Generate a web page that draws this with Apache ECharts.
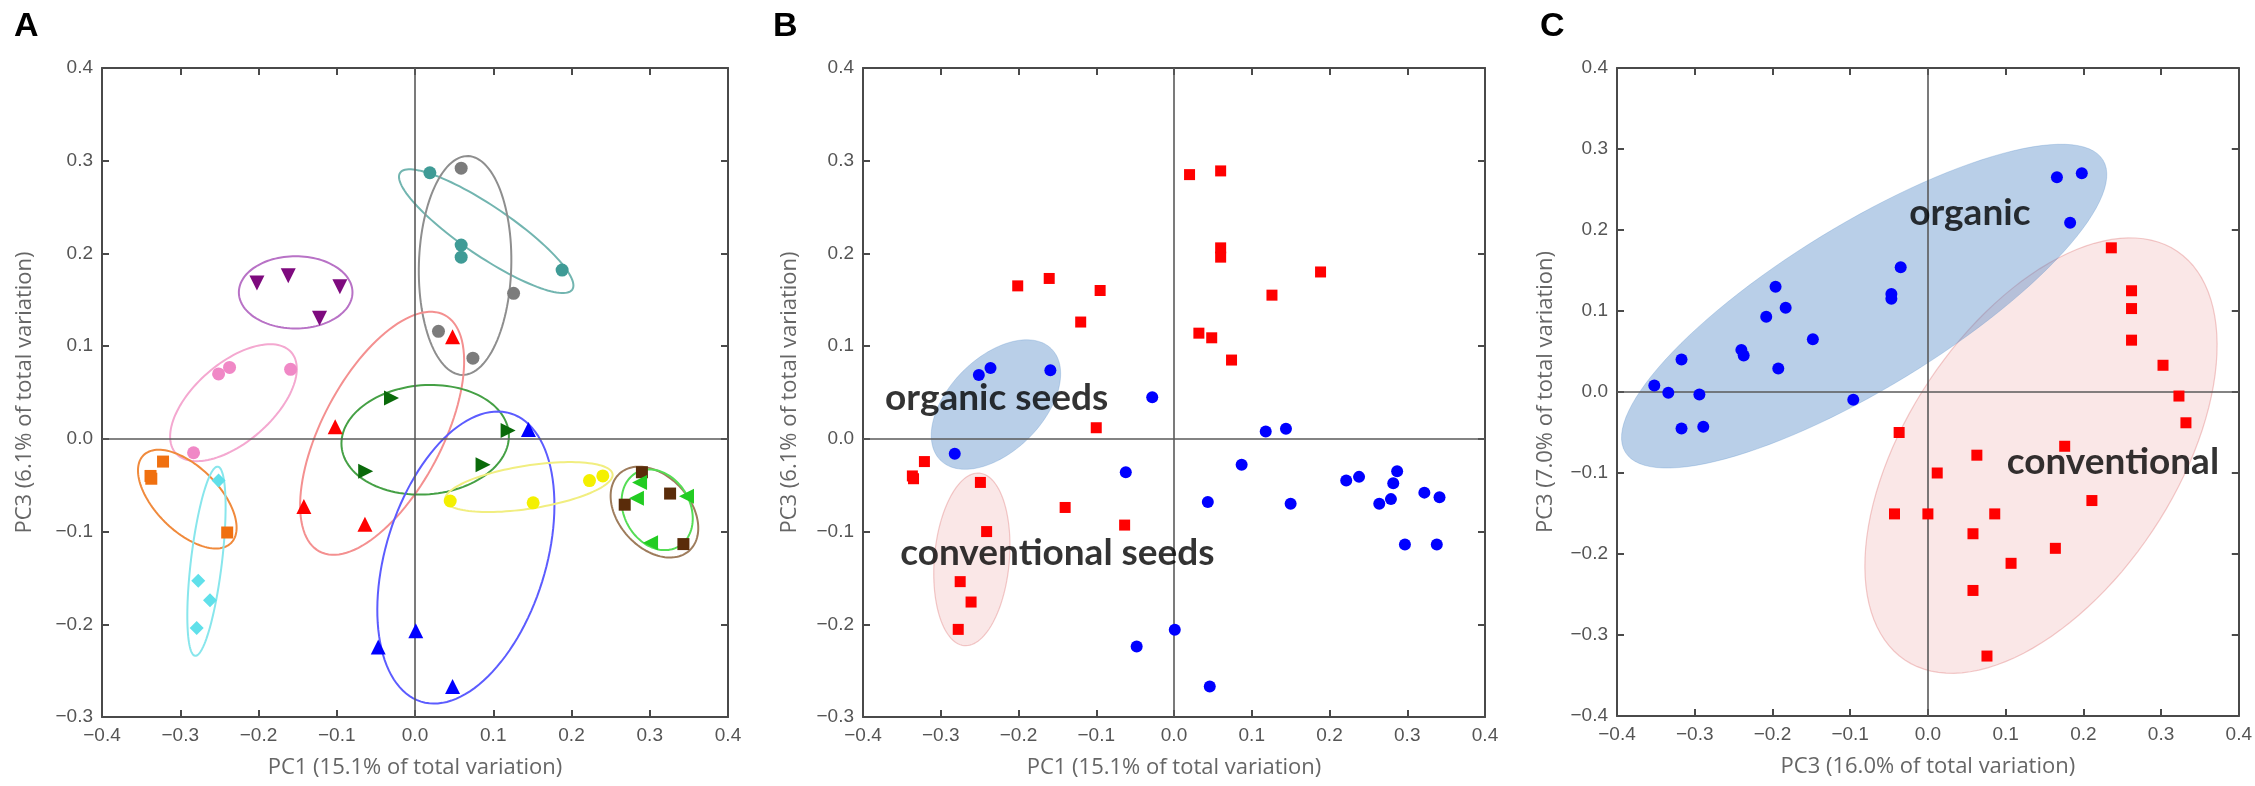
<!DOCTYPE html>
<html><head><meta charset="utf-8">
<script src="https://cdn.jsdelivr.net/npm/echarts@6/dist/echarts.min.js"></script>
<style>html,body{margin:0;padding:0;background:#fff}#c{width:2255px;height:786px}</style>
</head><body><div id="c"></div>
<script>
// ---------- Panel A: groups (points) ----------
const groupNames = ['teal','grey','purple','pink','red','darkgreen','blue','yellow','orange','cyan','brown','lime'];
const tealPts = [[0.019,0.287],[0.059,0.209],[0.059,0.196],[0.188,0.182]];
const greyPts = [[0.059,0.292],[0.126,0.157],[0.030,0.116],[0.074,0.087]];
const purplePts = [[-0.202,0.168],[-0.162,0.176],[-0.096,0.164],[-0.122,0.130]];
const pinkPts = [[-0.251,0.070],[-0.237,0.077],[-0.159,0.075],[-0.283,-0.015]];
const redPts = [[0.048,0.110],[-0.102,0.013],[-0.142,-0.073],[-0.064,-0.092]];
const darkgreenPts = [[-0.030,0.044],[0.119,0.009],[0.087,-0.028],[-0.063,-0.035]];
const bluePts = [[0.145,0.010],[0.001,-0.207],[-0.047,-0.2245],[0.048,-0.267]];
const yellowPts = [[0.045,-0.067],[0.151,-0.069],[0.223,-0.045],[0.240,-0.040]];
const orangePts = [[-0.322,-0.0245],[-0.338,-0.040],[-0.337,-0.043],[-0.240,-0.101]];
const cyanPts = [[-0.251,-0.045],[-0.277,-0.153],[-0.262,-0.174],[-0.279,-0.204]];
const brownPts = [[0.290,-0.036],[0.268,-0.071],[0.326,-0.059],[0.343,-0.1135]];
const limePts = [[0.287,-0.047],[0.283,-0.064],[0.347,-0.062],[0.301,-0.112]];

// ellipses: [cx, cy, ux, uy, vx, vy] (centre and two conjugate semi-axes, data units)
const tealEll = [0.091,0.224,0.110,-0.063,0.018,0.022];
const greyEll = [0.064,0.187,0.004,0.118,0.059,-0.002];
const purpleEll = [-0.1525,0.158,0.0726,0,0,0.039];
const pinkEll = [-0.232,0.039,0.072,0.056,-0.037,0.029];
const redEll = [-0.042,0.006,0.080,0.1275,-0.0677,0.0304];
const darkgreenEll = [0.013,-0.001,0.107,0.004,0,0.059];
const blueEll = [0.065,-0.128,0.0573,0.1554,-0.0976,0.0257];
const yellowEll = [0.1455,-0.052,0.107,0.014,-0.004,0.023];
const orangeEll = [-0.291,-0.065,0.056,-0.0473,0.0289,0.0244];
const cyanEll = [-0.2665,-0.132,0.0145,0.102,0.0197,-0.002];
const brownEll = [0.306,-0.079,0.0445,-0.0416,0.034,0.0259];
const limeEll = [0.3095,-0.0765,0.0271,-0.0397,0.0365,0.0178];

// ---------- Panel B ----------
const organicB = [[-0.251,0.069],[-0.236,0.0765],[-0.159,0.074],[-0.028,0.045],[-0.282,-0.016],[-0.062,-0.036],[0.118,0.008],[0.144,0.011],[0.087,-0.028],[0.0435,-0.068],[0.150,-0.070],[0.2215,-0.045],[0.238,-0.041],[0.287,-0.035],[0.282,-0.048],[0.264,-0.070],[0.279,-0.065],[0.322,-0.058],[0.3415,-0.063],[0.297,-0.114],[0.338,-0.114],[0.001,-0.206],[-0.048,-0.224],[0.046,-0.267]];
const conventionalB = [[0.020,0.285],[0.060,0.289],[0.060,0.206],[0.060,0.196],[0.1885,0.180],[0.126,0.155],[-0.201,0.165],[-0.1605,0.173],[-0.095,0.160],[-0.120,0.126],[0.032,0.114],[0.0485,0.109],[0.074,0.085],[-0.100,0.012],[-0.321,-0.0245],[-0.3365,-0.040],[-0.335,-0.043],[-0.249,-0.047],[-0.140,-0.074],[-0.0635,-0.093],[-0.241,-0.100],[-0.275,-0.154],[-0.261,-0.176],[-0.2775,-0.2055]];
const organicEllB = [-0.229,0.037,0.0715,0.060,-0.0426,0.0358];
const conventionalEllB = [-0.26,-0.130,0.010,0.093,0.048,-0.004];
const labelsB = [['organic seeds',-0.228,0.0435],['conventional seeds',-0.150,-0.123]];

// ---------- Panel C ----------
const organicC = [[0.166,0.265],[0.198,0.270],[0.183,0.209],[-0.035,0.154],[-0.047,0.121],[-0.047,0.115],[-0.196,0.130],[-0.183,0.104],[-0.208,0.093],[-0.148,0.065],[-0.240,0.052],[-0.237,0.045],[-0.1925,0.029],[-0.317,0.040],[-0.352,0.008],[-0.334,-0.001],[-0.294,-0.003],[-0.096,-0.0095],[-0.317,-0.045],[-0.289,-0.043]];
const conventionalC = [[0.236,0.178],[0.262,0.125],[0.262,0.103],[0.262,0.064],[0.3025,0.033],[0.323,-0.005],[0.332,-0.038],[-0.037,-0.050],[0.176,-0.067],[0.063,-0.078],[0.012,-0.100],[0.211,-0.134],[-0.043,-0.1505],[0.0,-0.1505],[0.086,-0.1505],[0.058,-0.175],[0.164,-0.193],[0.107,-0.2115],[0.058,-0.245],[0.076,-0.326]];
const organicEllC = [-0.082,0.106,0.3074,0.1802,-0.0545,0.0865];
const conventionalEllC = [0.1455,-0.0785,0.1752,0.2523,-0.1437,0.0927];
const labelsC = [['organic',0.054,0.221],['conventional',0.238,-0.087]];

// ---------- axis texts ----------
const panelLetters = ['A','B','C'];
const xTitles = ['PC1 (15.1% of total variation)','PC1 (15.1% of total variation)','PC3 (16.0% of total variation)'];
const yTitles = ['PC3 (6.1% of total variation)','PC3 (6.1% of total variation)','PC3 (7.0% of total variation)'];
const yMins = [-0.3,-0.3,-0.4];
const axisMin = -0.4, axisMax = 0.4, tickStep = 0.1;

// ---------- layout ----------
const grids = [
  {left:102, top:68, width:626, height:649},
  {left:863, top:68, width:622, height:649},
  {left:1617, top:68, width:625, height:648}
];
const yNameGaps = [66, 62, 60];
const letterPos = [[14,10],[773,10],[1540,10]];
const AX = '#4a4a4a';
const LBL = '#555';

function fmt(v){ const s = Math.abs(v).toFixed(1); return (v < -1e-9 ? '\u2212' : '') + s; }

const xAxes = [], yAxes = [];
grids.forEach((g,p)=>{
  const common = {type:'value', min:axisMin, max:axisMax, interval:tickStep, gridIndex:p, splitLine:{show:false},
    axisLine:{show:true,onZero:false,lineStyle:{color:AX,width:2}},
    axisTick:{show:true,inside:true,length:7,lineStyle:{color:AX,width:2}}};
  xAxes.push(Object.assign({}, common, {position:'bottom',
    axisLabel:{show:true,margin:9,color:LBL,fontSize:19,fontFamily:'Liberation Sans Narrow, Liberation Sans, sans-serif',formatter:fmt},
    name:xTitles[p], nameLocation:'middle', nameGap:40,
    nameTextStyle:{color:'#666',fontSize:22,fontFamily:'Open Sans'}}));
  xAxes.push(Object.assign({}, common, {position:'top', axisLabel:{show:false}}));
  const ycommon = Object.assign({}, common, {min:yMins[p], max:axisMax});
  yAxes.push(Object.assign({}, ycommon, {position:'left',
    axisLabel:{show:true,margin:9,color:LBL,fontSize:19,fontFamily:'Liberation Sans Narrow, Liberation Sans, sans-serif',formatter:fmt},
    name:yTitles[p], nameLocation:'middle', nameGap:yNameGaps[p], nameRotate:90,
    nameTextStyle:{color:'#666',fontSize:22,fontFamily:'Open Sans'}}));
  yAxes.push(Object.assign({}, ycommon, {position:'right', axisLabel:{show:false}}));
});

function ellipseSeries(p, params, fill, stroke, lw, z){
  return {type:'custom', xAxisIndex:2*p, yAxisIndex:2*p, z:z, silent:true, clip:false,
    encode:{x:0,y:1}, data:[params],
    renderItem:function(pr, api){
      const cx=api.value(0), cy=api.value(1), ux=api.value(2), uy=api.value(3), vx=api.value(4), vy=api.value(5);
      const pts=[];
      for(let i=0;i<120;i++){ const t=i/120*2*Math.PI;
        pts.push(api.coord([cx+ux*Math.cos(t)+vx*Math.sin(t), cy+uy*Math.cos(t)+vy*Math.sin(t)])); }
      return {type:'polygon', shape:{points:pts}, style:{fill:fill, stroke:stroke, lineWidth:lw}};
    }};
}
function scatterSeries(p, data, symbol, size, color, rot, z){
  return {type:'scatter', xAxisIndex:2*p, yAxisIndex:2*p, data:data, symbol:symbol, symbolSize:size,
    symbolRotate:rot||0, itemStyle:{color:color, opacity:1}, z:z||5, silent:true};
}
function zeroLines(p){
  return {type:'scatter', xAxisIndex:2*p, yAxisIndex:2*p, data:[], z:2, silent:true,
    markLine:{silent:true, symbol:['none','none'], label:{show:false}, animation:false,
      lineStyle:{color:'#5a5a5a', width:1.6, type:'solid'}, data:[{xAxis:0},{yAxis:0}]}};
}
function textSeries(p, labels){
  return {type:'scatter', xAxisIndex:2*p, yAxisIndex:2*p, symbolSize:0, z:8, silent:true,
    data:labels.map(l=>({name:l[0], value:[l[1],l[2]]})),
    label:{show:true, position:'inside', formatter:'{b}', color:'#000', fontSize:37, fontWeight:'bold', fontFamily:'Lato'}};
}

const series = [];
[0,1,2].forEach(p=>series.push(zeroLines(p)));

// Panel A
const groupsA = [
  [tealPts, tealEll, 'circle', 13, '#3f9b96', '#72b5b0', 0],
  [greyPts, greyEll, 'circle', 13, '#7c7c7c', '#8e8e8e', 0],
  [purplePts, purpleEll, 'triangle', 15, '#7e0a7e', '#b872c6', 180],
  [pinkPts, pinkEll, 'circle', 13, '#f088c6', '#f4a8d0', 0],
  [redPts, redEll, 'triangle', 15, '#ff0000', '#f49090', 0],
  [darkgreenPts, darkgreenEll, 'triangle', 15, '#0a6a0a', '#45a045', -90],
  [bluePts, blueEll, 'triangle', 15, '#0000ff', '#5c5cff', 0],
  [yellowPts, yellowEll, 'circle', 13, '#f4f000', '#f1ee80', 0],
  [orangePts, orangeEll, 'rect', 12, '#f07010', '#f08a3c', 0],
  [cyanPts, cyanEll, 'diamond', 14, '#60e0ea', '#88e6ec', 0],
  [brownPts, brownEll, 'rect', 12, '#5a2c0a', '#9e7c5c', 0],
  [limePts, limeEll, 'triangle', 15, '#22cc22', '#55dd55', 90]
];
groupsA.forEach(g=>{
  series.push(ellipseSeries(0, g[1], 'none', g[5], 2, 3));
  series.push(scatterSeries(0, g[0], g[2], g[3], g[4], g[6], 5));
});

// Panel B
series.push(ellipseSeries(1, conventionalEllB, 'rgba(225,110,110,0.17)', 'rgba(220,110,110,0.35)', 1.2, 1));
series.push(ellipseSeries(1, organicEllB, 'rgba(70,130,195,0.38)', 'rgba(70,130,195,0.25)', 1, 1));
series.push(scatterSeries(1, conventionalB, 'rect', 11, '#ff0000', 0, 5));
series.push(scatterSeries(1, organicB, 'circle', 12, '#0000ff', 0, 5));
series.push(textSeries(1, labelsB));

// Panel C
series.push(ellipseSeries(2, conventionalEllC, 'rgba(225,110,110,0.17)', 'rgba(220,110,110,0.35)', 1.2, 1));
series.push(ellipseSeries(2, organicEllC, 'rgba(70,130,195,0.38)', 'rgba(70,130,195,0.25)', 1, 1));
series.push(scatterSeries(2, conventionalC, 'rect', 11, '#ff0000', 0, 5));
series.push(scatterSeries(2, organicC, 'circle', 12, '#0000ff', 0, 5));
series.push(textSeries(2, labelsC));

const chart = echarts.init(document.getElementById('c'), null, {renderer:'canvas'});
chart.setOption({
  animation:false,
  backgroundColor:'#fff',
  grid: grids.map(g=>Object.assign({containLabel:false}, g)),
  xAxis: xAxes,
  yAxis: yAxes,
  graphic: panelLetters.map((t,i)=>({type:'text', left:letterPos[i][0], top:letterPos[i][1],
    style:{text:t, fill:'#000', font:'bold 34px "Liberation Sans", sans-serif'}})),
  series: series
});
</script></body></html>
